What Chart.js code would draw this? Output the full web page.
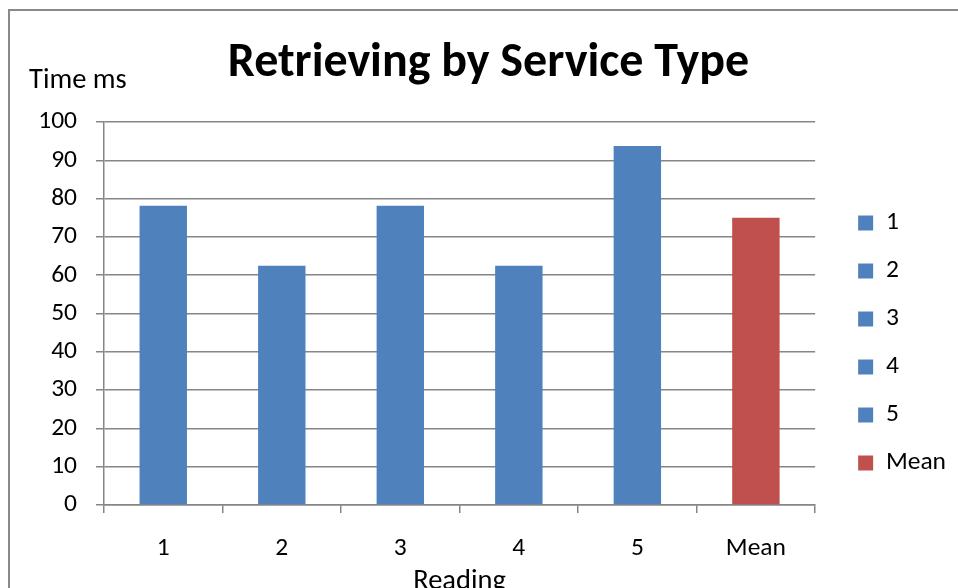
<!DOCTYPE html>
<html lang="en">
<head>
  <meta charset="UTF-8">
  <title>Retrieving by Service Type</title>
  <script src="https://cdn.jsdelivr.net/npm/chart.js"></script>
  <style>
    html, body { margin: 0; padding: 0; background: #fff; overflow: hidden; }
    #wrap { position: relative; width: 958px; height: 588px; }
    #frame {
      position: absolute; left: 8px; top: 9px; width: 1000px; height: 1000px;
      border: 2px solid #898989; pointer-events: none;
    }
  </style>
</head>
<body>
  <div id="wrap">
    <canvas id="chart" width="958" height="588"></canvas>
    <div id="frame"></div>
  </div>

  <script>
    // data
    const readings = ['1', '2', '3', '4', '5', 'Mean'];
    const timesMs = [78.125, 62.5, 78.125, 62.5, 93.75, 75];
    const barColors = ['#4f81bd', '#4f81bd', '#4f81bd', '#4f81bd', '#4f81bd', '#c0504d'];
    const yTicks = [0, 10, 20, 30, 40, 50, 60, 70, 80, 90, 100];

    const FONT = 'Carlito, Lato, sans-serif';
    const gridGray = '#868686';
    const tickFont = { family: FONT, size: 25.5 };

    // "Time ms" sits horizontally above the value axis, like Excel does it
    const yAxisLabel = {
      id: 'yAxisLabel',
      afterDraw(chart) {
        const ctx = chart.ctx;
        ctx.save();
        ctx.font = '28.5px ' + FONT;
        ctx.fillStyle = '#000';
        ctx.textBaseline = 'middle';
        ctx.textAlign = 'left';
        ctx.fillText('Time ms', 29, chart.chartArea.top - 41.5);
        ctx.restore();
      }
    };

    new Chart(document.getElementById('chart'), {
      type: 'bar',
      data: {
        labels: readings,
        datasets: [{
          label: 'Time ms',
          data: timesMs,
          backgroundColor: barColors,
          borderWidth: 0,
          categoryPercentage: 1,
          barPercentage: 0.4
        }]
      },
      options: {
        responsive: false,
        animation: false,
        events: [],
        layout: { padding: { left: 21, right: 2, top: 0, bottom: 0 } },
        plugins: {
          title: {
            display: true,
            text: 'Retrieving by Service Type',
            color: '#000',
            font: { family: FONT, size: 48, weight: 'bold' },
            padding: { top: 35.2, bottom: 29.2 }
          },
          legend: {
            position: 'right',
            // empty title only pushes the entries down a bit
            title: { display: true, text: '', font: { size: 12 }, padding: { top: 42, bottom: 41.6 } },
            labels: {
              color: '#000',
              font: tickFont,
              boxWidth: 15,
              boxHeight: 15,
              padding: 22.5,
              generateLabels(chart) {
                return readings.map((r, i) => ({
                  text: r,
                  fillStyle: barColors[i],
                  strokeStyle: barColors[i],
                  fontColor: '#000',
                  lineWidth: 0,
                  hidden: false,
                  index: i
                }));
              }
            }
          },
          tooltip: { enabled: false }
        },
        scales: {
          x: {
            afterFit(scale) { scale.height = 83; },
            grid: {
              display: true,
              drawOnChartArea: false,
              tickLength: 8,
              color: gridGray,
              lineWidth: 1.5
            },
            border: { color: gridGray, width: 1.5 },
            ticks: { color: '#000', font: tickFont, padding: 20.7 },
            title: {
              display: true,
              text: 'Reading',
              color: '#000',
              font: { family: FONT, size: 28.5, lineHeight: 0.4 },
              padding: { top: 0, bottom: 0 }
            }
          },
          y: {
            min: 0,
            max: 100,
            afterBuildTicks(scale) {
              scale.ticks = yTicks.map(v => ({ value: v }));
            },
            afterFit(scale) { scale.width = 83; },
            grid: { color: gridGray, lineWidth: 1.5, tickLength: 8 },
            border: { color: gridGray, width: 1.5 },
            ticks: { color: '#000', font: tickFont, padding: 19 }
          },
          // empty spacer between plot and legend
          gap: {
            type: 'linear',
            position: 'right',
            display: true,
            grid: { display: false },
            border: { display: false },
            ticks: { display: false },
            afterFit(scale) { scale.width = 20.5; }
          }
        }
      },
      plugins: [yAxisLabel]
    });
  </script>
</body>
</html>
